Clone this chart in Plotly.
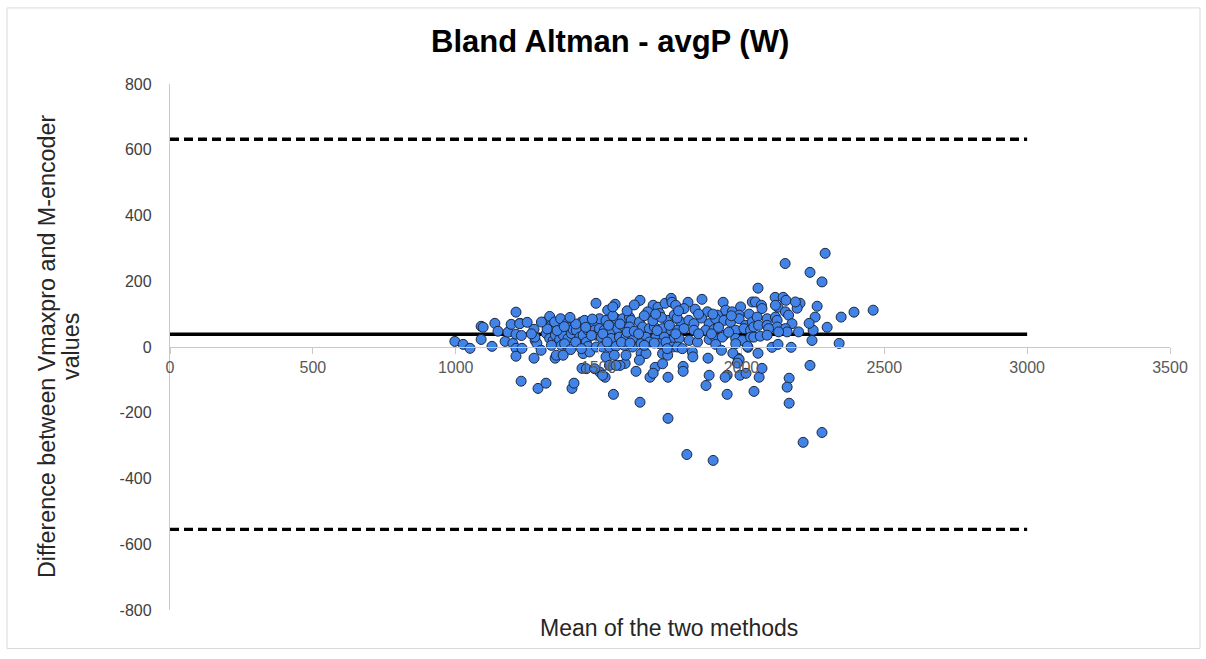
import plotly.graph_objects as go

# Bland-Altman data: mean of the two methods (W) and difference Vmaxpro - M-encoder (W)
mean_vals = [
    997, 1026, 1050, 1089, 1096, 1089, 1127, 1137, 1148, 1173, 1183, 1194, 1200, 1211, 1211,
    1225, 1211, 1232, 1211, 1229, 1274, 1278, 1284, 1274, 1288, 1316, 1299, 1348, 1407, 1414,
    1442, 1491, 1558, 1645, 1691, 1708, 1733, 1754, 1757, 1813, 1838, 1862, 1936, 1505, 1523,
    1552, 1645, 1743, 1809, 1901, 1883, 1887, 1876, 1680, 1698, 1691, 1743, 1631, 1796, 1796,
    1593, 1575, 1950, 1950, 2293, 2153, 2240, 2282, 2058, 2461, 2394, 2349, 2300, 2265, 2258,
    2205, 2195, 2118, 2146, 2156, 2128, 2342, 2247, 2251, 2237, 2174, 2107, 2128, 2240, 2167,
    2160, 2167, 2282, 2216, 2044, 1943, 1995, 2016, 2062, 2072, 2058, 1988, 1970, 2023,
    1224, 1230, 1277, 1311, 1329, 1335, 1346, 1367, 1391, 1395, 1317, 1329, 1341, 1349, 1364,
    1376, 1393, 1405, 1370, 1381, 1402, 1352, 1376, 1411, 1422, 1434, 1446, 1440, 1451, 1463,
    1472, 1486, 1486, 1492, 1457, 1463, 1446, 1469, 1492, 1457, 1486,
    1672, 1713, 1742, 1765, 1532, 1503, 1526, 1561, 1584, 1608, 1614, 1643, 1503, 1520, 1544,
    1567, 1590, 1608, 1654, 1678, 1695, 1724, 1754, 1509, 1544, 1573, 1596, 1619, 1666, 1701,
    1730, 1765, 1514, 1538, 1561, 1590, 1619, 1649, 1678, 1713, 1736, 1759, 1526, 1555, 1596,
    1649, 1666, 1724, 1742, 1538, 1561, 1643, 1724, 1514,
    1997, 2038, 1770, 1799, 1881, 1916, 1945, 1968, 1992, 2027, 1787, 1816, 1834, 1887, 1910,
    1939, 1962, 1992, 2015, 2038, 1776, 1799, 1834, 1875, 1904, 1939, 1980, 2009, 2032, 1782,
    1817, 1846, 1887, 1910, 1933, 1980, 2003, 2032, 1776, 1793, 1828, 1910, 1980, 2021, 1992,
    1986,
    2049, 2070, 2189, 2119, 2072, 2055, 2090, 2119, 2154, 2125, 2165, 2177, 2200, 2043, 2060,
    2090, 2125, 2095, 2154, 2160, 2043, 2066, 2090, 2130,
    1320, 1355, 1380, 1420, 1455, 1475, 1335, 1420, 1400, 1300, 1265, 1250, 1440, 1478,
    1515, 1535, 1550, 1575, 1600, 1625, 1640, 1660, 1690, 1705, 1720, 1748, 1775, 1530, 1580,
    1610, 1660, 1695, 1740, 1770, 1550, 1600, 1625, 1700, 1780,
    1850, 1860, 1895, 1920, 1955, 1965, 1850, 1900, 1830, 1930,
]
diff_vals = [
    17, 8, -4, 63, 60, 23, 2, 72, 48, 17, 45, 69, 11, 106, 39,
    72, -4, -4, -28, -104, 54, 20, 11, -34, -126, -110, -10, -34, -126, -110,
    -65, 133, 130, 142, 127, 121, 133, 148, 136, 136, 115, 145, 136, -77, -92,
    -144, -168, -217, -327, -345, -34, -86, -117, -92, -62, -80, -92, -74, -59, -74,
    -50, -56, -86, -144, 285, 254, 227, 198, 179, 112, 106, 91, 60, 124, 91,
    133, 118, 151, 151, 142, 121, 11, 20, 51, 72, -1, -1, 8, -56, -95,
    -122, -171, -260, -290, -135, -92, -86, -80, -92, -65, -19, -34, -19, -1,
    71, 35, 30, 76, 93, 66, 76, 86, 73, 59, 41, 26, 20, 36, 23,
    36, 26, 41, 5, 10, -8, -25, -25, 53, 51, 30, 36, 76, 81, 51,
    53, 71, 51, 36, 15, 2, -20, -15, 0, -66, -66,
    107, 102, 81, 97, 112, 86, 81, 86, 86, 91, 81, 76, 56, 51, 51,
    56, 61, 61, 61, 56, 61, 56, 51, 30, 26, 30, 30, 26, 30, 30,
    30, 26, 0, 0, 2, 5, 0, 10, 15, 10, 15, 0, -30, -25, -25,
    -20, -20, -20, -25, -56, -56, -40, -51, -86,
    122, 137, 127, 117, 107, 97, 112, 107, 97, 100, 76, 81, 71, 71, 86,
    81, 76, 86, 66, 76, 51, 56, 51, 51, 53, 36, 51, 56, 51, 26,
    20, 15, 23, 26, 30, 26, 20, 30, 0, -5, -15, 8, 10, 2, -38,
    -49,
    137, 127, 137, 127, 117, 91, 86, 91, 107, 81, 97, 71, 46, 61, 66,
    66, 61, 56, 56, 46, 30, 33, 36, 46,
    55, 50, 62, 70, 60, 35, 5, 15, 90, 76, 40, 75, -5, 85,
    40, 66, 95, 70, 45, 48, 40, 95, 80, 50, 90, 66, 88, 15, 14,
    12, 5, 12, -5, 40, 122, 110, 128, 100, 110,
    40, 88, 40, 60, 45, 95, 100, 100, -30, -10,
]

# Bias and 95% limits of agreement (W)
bias = 38.5
upper_loa = 632
lower_loa = -555
line_x = [0, 3000]

x_ticks = [0, 500, 1000, 1500, 2000, 2500, 3000, 3500]
y_ticks = [-800, -600, -400, -200, 0, 200, 400, 600, 800]

font_family = "Liberation Sans, Arial, sans-serif"
label_color = "#595959"
axis_color = "#C9C9C9"

fig = go.Figure()

fig.add_trace(go.Scatter(
    x=line_x, y=[upper_loa, upper_loa], mode="lines",
    line=dict(color="black", width=3.3, dash="9px,5px"), hoverinfo="skip",
))
fig.add_trace(go.Scatter(
    x=line_x, y=[lower_loa, lower_loa], mode="lines",
    line=dict(color="black", width=3.3, dash="9px,5px"), hoverinfo="skip",
))
fig.add_trace(go.Scatter(
    x=line_x, y=[bias, bias], mode="lines",
    line=dict(color="black", width=3.5), hoverinfo="skip",
))
fig.add_trace(go.Scatter(
    x=mean_vals, y=diff_vals, mode="markers",
    marker=dict(size=10, color="#4283E8", line=dict(color="#1B2740", width=1)),
))

fig.update_layout(
    width=1206, height=659,
    margin=dict(l=170, r=36, t=84, b=49),
    paper_bgcolor="white", plot_bgcolor="white",
    showlegend=False,
    font=dict(family=font_family, color=label_color),
    xaxis=dict(
        range=[0, 3500], tickvals=x_ticks, ticktext=[str(v) for v in x_ticks],
        anchor="free", position=0.5,
        showline=True, linecolor=axis_color, linewidth=1.3,
        ticks="outside", ticklen=6, tickcolor=axis_color, tickwidth=1.3,
        showgrid=False, zeroline=False,
        tickfont=dict(size=16, color=label_color),
    ),
    yaxis=dict(
        range=[-800, 800], tickvals=y_ticks, ticktext=[str(v) for v in y_ticks],
        showline=True, linecolor=axis_color, linewidth=1.3,
        ticks="outside", ticklen=14, tickcolor="rgba(0,0,0,0)",
        showgrid=False, zeroline=False,
        tickfont=dict(size=16, color="#404040"),
    ),
    annotations=[
        dict(text="<b>Bland Altman - avgP (W)</b>", x=0.44, y=1.08, xref="paper", yref="paper",
             xanchor="center", yanchor="middle", showarrow=False,
             font=dict(size=31, color="black", family=font_family)),
        dict(text="Mean of the two methods", x=0.499, y=-0.0333, xref="paper", yref="paper",
             xanchor="center", yanchor="middle", showarrow=False,
             font=dict(size=23, color="#262626", family=font_family)),
        dict(text="Difference between Vmaxpro and M-encoder", x=-0.123, y=0.5, xref="paper", yref="paper",
             xanchor="center", yanchor="middle", textangle=-90, showarrow=False,
             font=dict(size=23.3, color="#262626", family=font_family)),
        dict(text="values", x=-0.099, y=0.5, xref="paper", yref="paper",
             xanchor="center", yanchor="middle", textangle=-90, showarrow=False,
             font=dict(size=23.3, color="#262626", family=font_family)),
    ],
    shapes=[
        dict(type="rect", xref="paper", yref="paper",
             x0=-0.163, x1=1.03, y0=-0.0733, y1=1.1446,
             line=dict(color="#D9D9D9", width=1), fillcolor="rgba(0,0,0,0)", layer="below"),
    ],
)

fig.write_html("out.html")
